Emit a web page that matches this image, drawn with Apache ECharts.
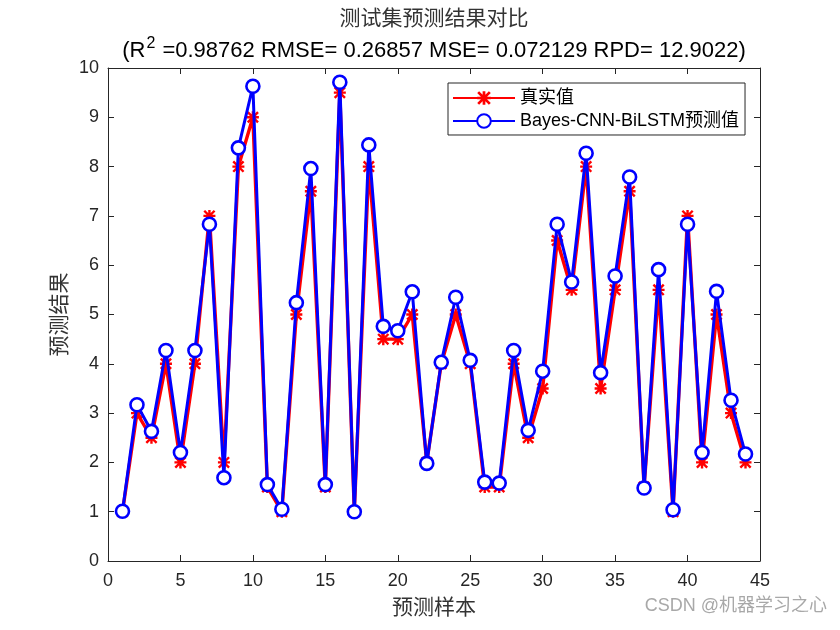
<!DOCTYPE html>
<html>
<head>
<meta charset="utf-8">
<script src="https://cdn.jsdelivr.net/npm/echarts@6/dist/echarts.min.js"></script>
<style>html,body{margin:0;padding:0;background:#fff;}#c{width:840px;height:630px;}</style>
</head>
<body>
<div id="c"></div>
<script>
const sampleIdx = Array.from({length: 44}, (_, i) => i + 1);
const trueValues = [1, 3, 2.5, 4, 2, 4, 7, 2, 8, 9, 1.5, 1, 5, 7.5, 1.5, 9.5, 1, 8, 4.5, 4.5, 5, 2, 4, 5, 4, 1.5, 1.5, 4, 2.5, 3.5, 6.5, 5.5, 8, 3.5, 5.5, 7.5, 1.5, 5.5, 1, 7, 2, 5, 3, 2];
const predValues = [1.01, 3.17, 2.63, 4.27, 2.2, 4.27, 6.83, 1.69, 8.38, 9.63, 1.55, 1.05, 5.24, 7.96, 1.55, 9.71, 1.0, 8.44, 4.76, 4.67, 5.46, 1.98, 4.03, 5.35, 4.07, 1.6, 1.58, 4.27, 2.65, 3.85, 6.83, 5.66, 8.27, 3.82, 5.78, 7.79, 1.48, 5.91, 1.04, 6.83, 2.2, 5.47, 3.26, 2.17];
const xTicks = [0, 5, 10, 15, 20, 25, 30, 35, 40, 45];
const yTicks = [0, 1, 2, 3, 4, 5, 6, 7, 8, 9, 10];
const seriesNames = ['真实值', 'Bayes-CNN-BiLSTM预测值'];

const starPath = 'path://M0 8L20 8L20 12L0 12Z M8 0L12 0L12 20L8 20Z M0 2.83L2.83 0L20 17.17L17.17 20Z M17.17 0L20 2.83L2.83 20L0 17.17Z';
const axisColor = '#262626';
const font = '"Liberation Sans", Arial, sans-serif';
const cjk = '"Noto Sans CJK SC", sans-serif';
const mixed = '"Liberation Sans", "Noto Sans CJK SC", sans-serif';

const chart = echarts.init(document.getElementById('c'));
const baseX = {type: 'value', min: xTicks[0], max: xTicks[xTicks.length - 1], interval: 5,
  axisLine: {show: true, onZero: false, lineStyle: {color: axisColor, width: 1}},
  axisTick: {show: true, inside: true, length: 6, lineStyle: {color: axisColor}},
  splitLine: {show: false}};
const baseY = {type: 'value', min: yTicks[0], max: yTicks[yTicks.length - 1], interval: 1,
  axisLine: {show: true, onZero: false, lineStyle: {color: axisColor, width: 1}},
  axisTick: {show: true, inside: true, length: 6, lineStyle: {color: axisColor}},
  splitLine: {show: false}};

chart.setOption({
  animation: false,
  backgroundColor: '#fff',
  title: {
    left: 434, top: 1, textAlign: 'center', padding: 0,
    text: '{a|测试集预测结果对比}\n{b|(R}{sup|2}{b| =0.98762 RMSE= 0.26857 MSE= 0.072129 RPD= 12.9022)}',
    textStyle: {
      fontWeight: 'normal',
      rich: {
        a: {fontFamily: cjk, fontSize: 21, fontWeight: 'normal', color: '#333', lineHeight: 33},
        b: {fontFamily: font, fontSize: 22, fontWeight: 'normal', color: '#000', lineHeight: 34},
        sup: {fontFamily: font, fontSize: 16, fontWeight: 'normal', color: '#000', lineHeight: 34, padding: [0, 1, 14, 1]}
      }
    }
  },
  grid: {left: 108, right: 80, top: 68, bottom: 69, containLabel: false},
  legend: {
    orient: 'vertical', left: 448, top: 83,
    data: seriesNames,
    backgroundColor: '#fff', borderColor: axisColor, borderWidth: 1, borderRadius: 0,
    padding: [6, 6, 5, 4], itemGap: 5, itemWidth: 62, itemHeight: 17,
    textStyle: {fontFamily: mixed, fontSize: 18, color: '#000'}
  },
  xAxis: [
    Object.assign({}, baseX, {position: 'bottom',
      name: '预测样本', nameLocation: 'middle', nameGap: 35,
      nameTextStyle: {fontFamily: cjk, fontSize: 21, color: '#333'},
      axisLabel: {show: true, margin: 11, fontFamily: font, fontSize: 18, color: axisColor}}),
    Object.assign({}, baseX, {position: 'top', axisLabel: {show: false}})
  ],
  yAxis: [
    Object.assign({}, baseY, {position: 'left',
      name: '预测结果', nameLocation: 'middle', nameGap: 35,
      nameTextStyle: {fontFamily: cjk, fontSize: 21, color: '#333'},
      axisLabel: {show: true, margin: 9, fontFamily: font, fontSize: 18, color: axisColor}}),
    Object.assign({}, baseY, {position: 'right', axisLabel: {show: false}})
  ],
  series: [
    {
      name: seriesNames[0], type: 'line',
      data: sampleIdx.map((x, i) => [x, trueValues[i]]),
      symbol: starPath, symbolSize: 12,
      lineStyle: {color: '#ff0000', width: 3.4},
      itemStyle: {color: '#ff0000', borderWidth: 0},
      z: 2
    },
    {
      name: seriesNames[1], type: 'line',
      data: sampleIdx.map((x, i) => [x, predValues[i]]),
      symbol: 'circle', symbolSize: 13, showAllSymbol: true,
      lineStyle: {color: '#0000ff', width: 3},
      itemStyle: {color: '#fff', borderColor: '#0000ff', borderWidth: 2.6},
      z: 3
    }
  ],
  graphic: [{
    type: 'text', right: 13, top: 597,
    style: {text: 'CSDN @机器学习之心', fontFamily: mixed, fontSize: 18, fill: '#a8a8a8'}
  }]
});
</script>
</body>
</html>
